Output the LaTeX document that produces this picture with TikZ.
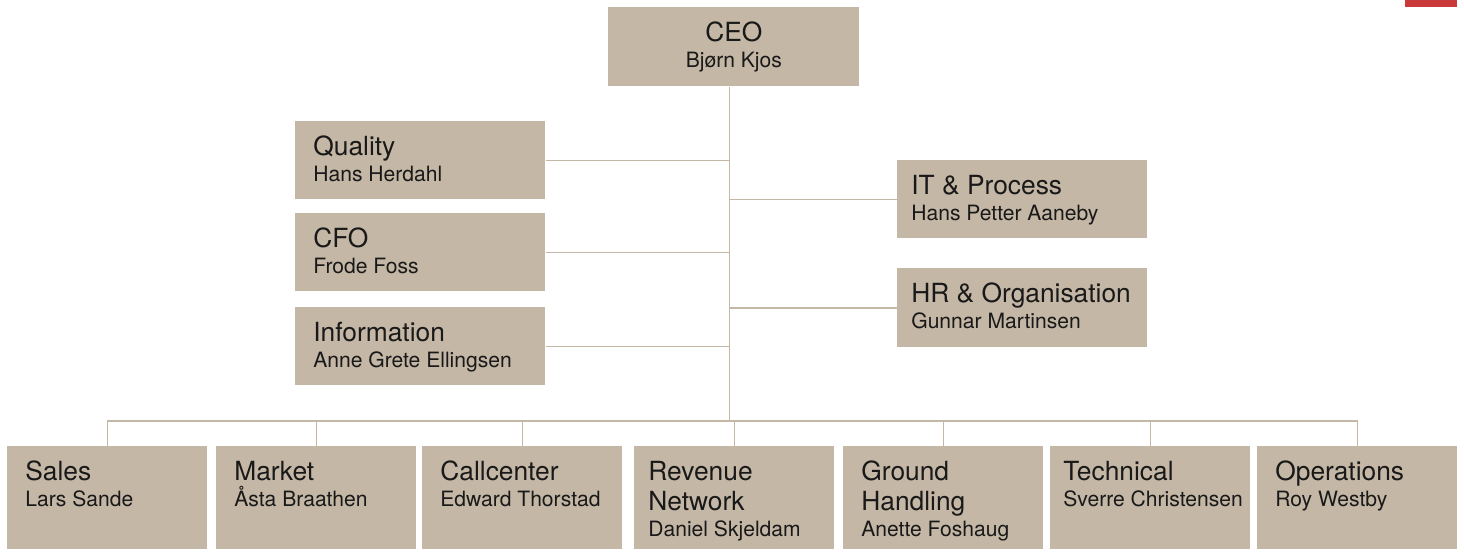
\documentclass[tikz,border=0pt]{standalone}
\usepackage{fontspec}
\setmainfont{TeX Gyre Heros}
\definecolor{boxtan}{RGB}{196,183,165}
\definecolor{brandred}{RGB}{201,57,58}
\newcommand{\titlefont}{\fontsize{15}{17}\selectfont}
\newcommand{\namefont}{\fontsize{12}{14.8}\selectfont}
% width, height, alignment, title, name
\newcommand{\post}[5]{\parbox[t][#2][t]{#1}{#3%
    {\titlefont\rule{0pt}{0.68cm}#4\par}%
    {\namefont #5\par}}}
\newcommand{\lft}[1][0.36cm]{\raggedright\leftskip=#1}

\begin{document}
\begin{tikzpicture}
		\tikzset{unit/.style = {fill=boxtan, inner sep=0pt, anchor=north west, text=black!90}}
		\tikzset{link/.style = {draw=boxtan, line width=0.85pt}}
		\useasboundingbox (0,0) rectangle (29.28,-11.02);
		\fill[brandred] (28.10,0) rectangle (29.14,-0.14);
		% management
		\node[unit] (ceo) at (12.16,-0.14) {\post{5.02cm}{1.58cm}{\centering}{CEO}{Bjørn Kjos}};
		\node[unit] (quality) at (5.90,-2.42) {\post{5cm}{1.56cm}{\lft}{Quality}{Hans Herdahl}};
		\node[unit] (cfo) at (5.90,-4.26) {\post{5cm}{1.56cm}{\lft}{CFO}{Frode Foss}};
		\node[unit] (info) at (5.90,-6.14) {\post{5cm}{1.56cm}{\lft}{Information}{Anne Grete Ellingsen}};
		\node[unit] (it) at (17.94,-3.20) {\post{5cm}{1.56cm}{\lft[0.28cm]}{IT \& Process}{Hans Petter Aaneby}};
		\node[unit] (hr) at (17.94,-5.36) {\post{5cm}{1.58cm}{\lft[0.28cm]}{HR \& Organisation}{Gunnar Martinsen}};
		% divisions
		\node[unit] (sales) at (0.14,-8.92) {\post{4cm}{2.06cm}{\lft}{Sales}{Lars Sande}};
		\node[unit] (market) at (4.32,-8.92) {\post{4cm}{2.06cm}{\lft}{Market}{Åsta Braathen}};
		\node[unit] (call) at (8.44,-8.92) {\post{4cm}{2.06cm}{\lft}{Callcenter}{Edward Thorstad}};
		\node[unit] (revenue) at (12.68,-8.92) {\post{4cm}{2.06cm}{\lft[0.28cm]}{Revenue\\Network}{Daniel Skjeldam}};
		\node[unit] (ground) at (16.86,-8.92) {\post{4cm}{2.06cm}{\lft}{Ground\\Handling}{Anette Foshaug}};
		\node[unit] (tech) at (21.00,-8.92) {\post{4cm}{2.06cm}{\lft[0.26cm]}{Technical}{Sverre Christensen}};
		\node[unit] (ops) at (25.14,-8.92) {\post{4cm}{2.06cm}{\lft}{Operations}{Roy Westby}};

		%edges
		\coordinate (bus) at (14.59,-8.42);
		\draw[link] (ceo.south -| bus) -- (bus);
		\foreach \n in {quality,cfo,info}
			\draw[link] (\n.east) -- (\n.east -| bus);
		\foreach \n in {it,hr}
			\draw[link] (\n.west -| bus) -- (\n.west);
		\foreach \n in {sales,market,call,revenue,ground,tech,ops}
			\draw[link] (bus) -| (\n.north);
\end{tikzpicture}
\end{document}
